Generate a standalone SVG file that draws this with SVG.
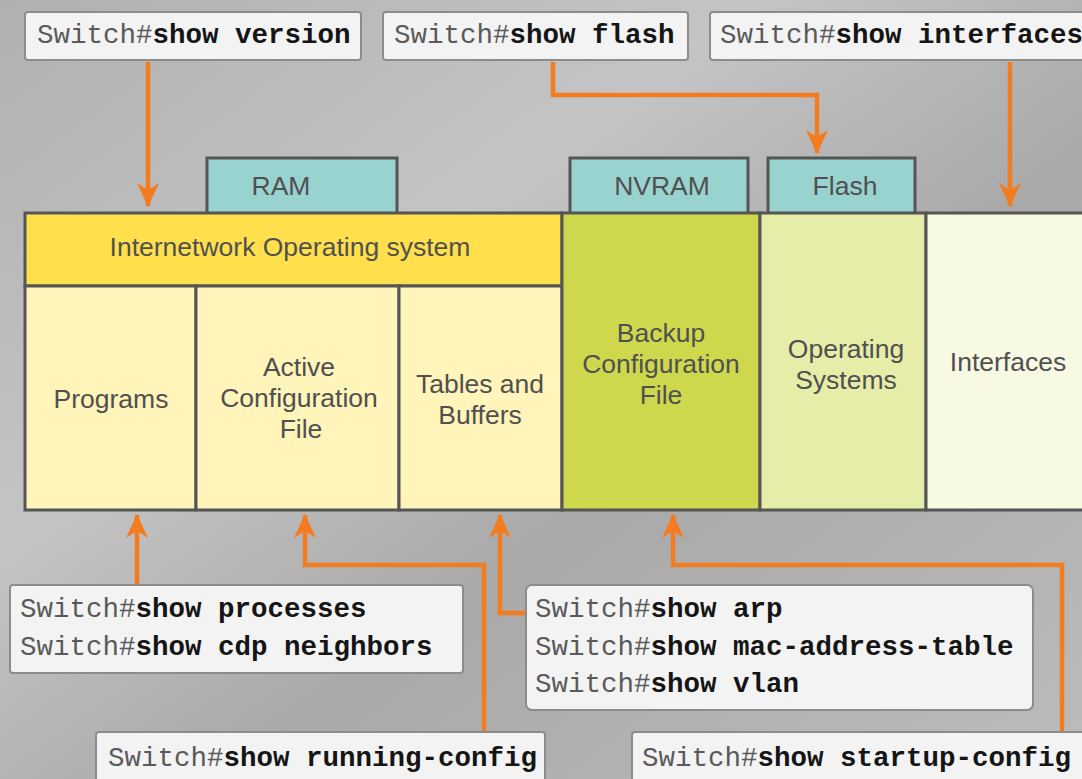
<svg xmlns="http://www.w3.org/2000/svg" width="1082" height="779" viewBox="0 0 1082 779">
<style>
.cmdbox{fill:#f3f3f3;stroke:#8c8c8c;stroke-width:2}
.mono{font-family:"Liberation Mono","Courier New",monospace;font-size:27.5px}
.pre{fill:#5a5a5a}
.cmd{fill:#151515;font-weight:bold}
.lbl{font-family:"Liberation Sans",Arial,sans-serif;font-size:26.5px;fill:#505050;text-anchor:middle}
.cell{stroke:#555;stroke-width:3}
.tab{fill:#99d3d0;stroke:#555;stroke-width:3}
.wire{fill:none;stroke:#f47c20;stroke-width:4.5}
</style>
<defs>
<linearGradient id="bg" x1="0" y1="0" x2="1" y2="1">
<stop offset="0" stop-color="#b0b0b0"/>
<stop offset="0.35" stop-color="#c4c4c4"/>
<stop offset="0.6" stop-color="#a9a9a9"/>
<stop offset="1" stop-color="#bcbcbc"/>
</linearGradient>
<marker id="ah" viewBox="0 0 24 26" refX="23" refY="13" markerWidth="24" markerHeight="26" markerUnits="userSpaceOnUse" orient="auto">
<path d="M0,2 L24,13 L0,24 L7,13 z" fill="#f47c20"/>
</marker>
</defs>
<rect x="0" y="0" width="1082" height="779" fill="url(#bg)"/>

<g id="connectors">
<path class="wire" d="M148,62 V206" marker-end="url(#ah)"/>
<path class="wire" d="M553,62 V95 H817 V153" marker-end="url(#ah)"/>
<path class="wire" d="M1010,62 V206" marker-end="url(#ah)"/>
<path class="wire" d="M137,585 V515" marker-end="url(#ah)"/>
<path class="wire" d="M484,733 V565 H305 V515" marker-end="url(#ah)"/>
<path class="wire" d="M527,613 H500 V515" marker-end="url(#ah)"/>
<path class="wire" d="M1062,733 V565 H673 V515" marker-end="url(#ah)"/>
</g>

<g id="tab-ram"><rect class="tab" x="207" y="158" width="190" height="56"/><text class="lbl" x="281" y="195">RAM</text></g>
<g id="tab-nvram"><rect class="tab" x="570" y="158" width="178" height="56"/><text class="lbl" x="662" y="195">NVRAM</text></g>
<g id="tab-flash"><rect class="tab" x="768" y="158" width="147" height="56"/><text class="lbl" x="845" y="195">Flash</text></g>

<g id="ios"><rect class="cell" x="25" y="213" width="537" height="73" fill="#ffe04c"/><text class="lbl" x="290" y="256">Internetwork Operating system</text></g>
<g id="programs"><rect class="cell" x="25" y="286" width="171" height="224" fill="#fff4b9"/><text class="lbl" x="111" y="408">Programs</text></g>
<g id="active-config"><rect class="cell" x="196" y="286" width="203" height="224" fill="#fff4b9"/><text class="lbl" x="299" y="376">Active</text><text class="lbl" x="299" y="407">Configuration</text><text class="lbl" x="301" y="438">File</text></g>
<g id="tables"><rect class="cell" x="399" y="286" width="163" height="224" fill="#fff4b9"/><text class="lbl" x="480" y="393">Tables and</text><text class="lbl" x="480" y="424">Buffers</text></g>
<g id="backup-config"><rect class="cell" x="562" y="213" width="198" height="297" fill="#cfd84d"/><text class="lbl" x="661" y="342">Backup</text><text class="lbl" x="661" y="373">Configuration</text><text class="lbl" x="661" y="404">File</text></g>
<g id="os"><rect class="cell" x="760" y="213" width="166" height="297" fill="#e6eda8"/><text class="lbl" x="846" y="358">Operating</text><text class="lbl" x="846" y="389">Systems</text></g>
<g id="interfaces"><rect class="cell" x="926" y="213" width="160" height="297" fill="#f7f9e3"/><text class="lbl" x="1008" y="371">Interfaces</text></g>

<g id="cmd-version"><rect class="cmdbox" x="25" y="12" width="336" height="48" rx="3"/><text class="mono" x="37" y="43"><tspan class="pre">Switch#</tspan><tspan class="cmd">show version</tspan></text></g>
<g id="cmd-flash"><rect class="cmdbox" x="383" y="12" width="305" height="48" rx="3"/><text class="mono" x="394" y="43"><tspan class="pre">Switch#</tspan><tspan class="cmd">show flash</tspan></text></g>
<g id="cmd-interfaces"><rect class="cmdbox" x="710" y="12" width="380" height="48" rx="3"/><text class="mono" x="720" y="43"><tspan class="pre">Switch#</tspan><tspan class="cmd">show interfaces</tspan></text></g>

<g id="cmd-processes"><rect class="cmdbox" x="10" y="585" width="453" height="88" rx="3"/><text class="mono" x="20" y="617"><tspan class="pre">Switch#</tspan><tspan class="cmd">show processes</tspan></text><text class="mono" x="20" y="655"><tspan class="pre">Switch#</tspan><tspan class="cmd">show cdp neighbors</tspan></text></g>
<g id="cmd-arp"><rect class="cmdbox" x="526" y="585" width="507" height="125" rx="6"/><text class="mono" x="535" y="617"><tspan class="pre">Switch#</tspan><tspan class="cmd">show arp</tspan></text><text class="mono" x="535" y="655"><tspan class="pre">Switch#</tspan><tspan class="cmd">show mac-address-table</tspan></text><text class="mono" x="535" y="692"><tspan class="pre">Switch#</tspan><tspan class="cmd">show vlan</tspan></text></g>
<g id="cmd-running"><rect class="cmdbox" x="96" y="732" width="449" height="60" rx="3"/><text class="mono" x="108" y="766"><tspan class="pre">Switch#</tspan><tspan class="cmd">show running-config</tspan></text></g>
<g id="cmd-startup"><rect class="cmdbox" x="632" y="732" width="460" height="60" rx="3"/><text class="mono" x="642" y="766"><tspan class="pre">Switch#</tspan><tspan class="cmd">show startup-config</tspan></text></g>
</svg>
